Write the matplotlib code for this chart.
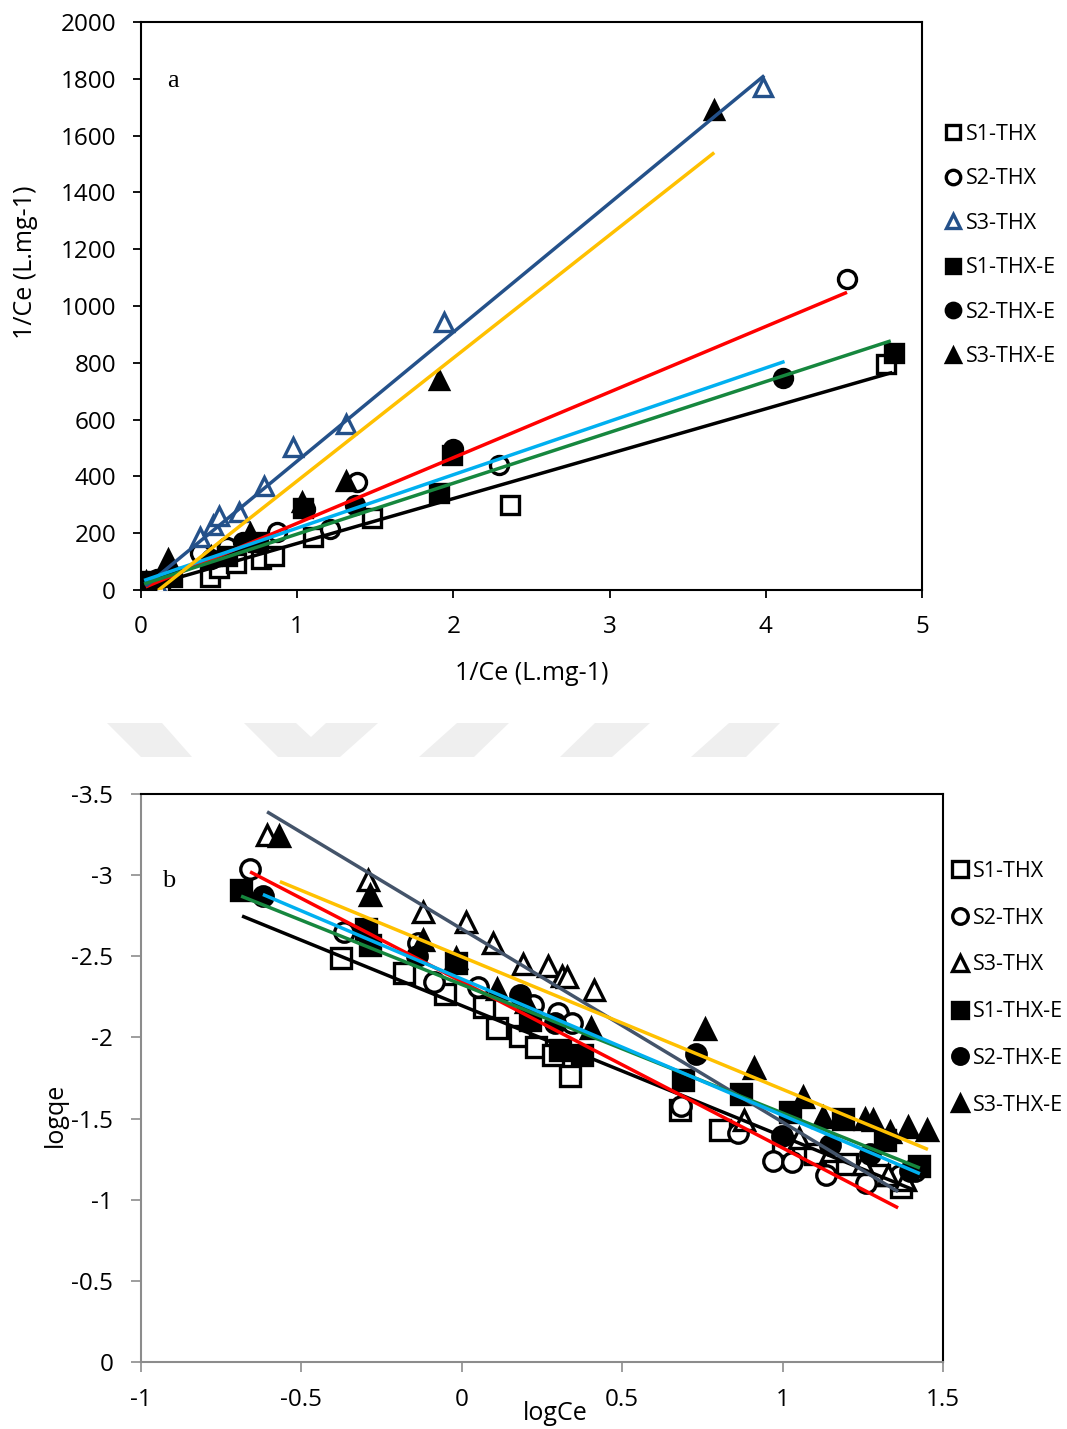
import numpy as np
import matplotlib
matplotlib.use("Agg")
import matplotlib.pyplot as plt
from matplotlib.patches import Polygon

plt.rcParams["font.family"] = ["Open Sans", "DejaVu Sans"]

series_names = ["S1-THX", "S2-THX", "S3-THX", "S1-THX-E", "S2-THX-E", "S3-THX-E"]

# panel a: 1/qe against 1/Ce
a_x = {
    "S1-THX": [0.03, 0.12, 0.44, 0.50, 0.61, 0.77, 0.85, 1.10, 1.48, 2.36, 4.77],
    "S2-THX": [0.04, 0.38, 0.55, 0.87, 1.21, 1.38, 2.29, 4.52],
    "S3-THX": [0.03, 0.10, 0.38, 0.46, 0.50, 0.63, 0.79, 0.97, 1.31, 1.94, 3.98],
    "S1-THX-E": [0.02, 0.20, 0.55, 0.75, 1.04, 1.91, 1.99, 4.82],
    "S2-THX-E": [0.10, 0.45, 0.65, 1.05, 1.37, 2.00, 4.11],
    "S3-THX-E": [0.03, 0.17, 0.45, 0.70, 1.03, 1.31, 1.91, 3.67],
}
a_y = {
    "S1-THX": [10, 25, 45, 78, 95, 110, 120, 185, 255, 300, 795],
    "S2-THX": [20, 130, 150, 205, 215, 380, 440, 1095],
    "S3-THX": [5, 20, 185, 230, 260, 275, 365, 505, 585, 945, 1770],
    "S1-THX-E": [30, 45, 120, 170, 290, 340, 475, 835],
    "S2-THX-E": [40, 110, 170, 285, 300, 495, 745],
    "S3-THX-E": [30, 108, 120, 200, 310, 385, 740, 1690],
}
a_slope = [158, 231, 454, 179, 188, 433]
a_intercept = [6, 4, 0, 18, 30, -49]
a_xstart = [0.02, 0.03, 0.03, 0.02, 0.02, 0.11]
a_xend = [4.81, 4.52, 3.99, 4.80, 4.12, 3.67]

# panel b: logqe against logCe
b_x = {
    "S1-THX": [-0.377, -0.180, -0.052, 0.069, 0.110, 0.181, 0.231, 0.284, 0.337,
               0.680, 0.805, 1.00, 1.10, 1.20, 1.30, 1.37],
    "S2-THX": [-0.660, -0.367, -0.137, -0.087, 0.050, 0.222, 0.300, 0.344, 0.683,
               0.861, 0.970, 1.029, 1.135, 1.260, 1.366, 1.413],
    "S3-THX": [-0.607, -0.292, -0.121, 0.013, 0.097, 0.191, 0.269, 0.312, 0.328,
               0.412, 0.880, 1.05, 1.15, 1.25, 1.33, 1.38],
    "S1-THX-E": [-0.688, -0.299, -0.286, -0.018, 0.213, 0.306, 0.375, 0.690, 0.870,
                 1.023, 1.188, 1.319, 1.425],
    "S2-THX-E": [-0.620, -0.14, 0.181, 0.291, 0.730, 0.998, 1.148, 1.273, 1.397],
    "S3-THX-E": [-0.570, -0.286, -0.121, -0.018, 0.110, 0.20, 0.403, 0.758, 0.911,
                 1.064, 1.126, 1.257, 1.282, 1.335, 1.391, 1.450],
}
b_y = {
    "S1-THX": [-2.49, -2.40, -2.27, -2.19, -2.06, -2.01, -1.94, -1.89, -1.76,
               -1.55, -1.43, -1.33, -1.28, -1.22, -1.15, -1.08],
    "S2-THX": [-3.04, -2.65, -2.58, -2.34, -2.31, -2.20, -2.15, -2.09, -1.58,
               -1.41, -1.24, -1.23, -1.15, -1.10, -1.15, -1.18],
    "S3-THX": [-3.25, -2.97, -2.77, -2.71, -2.58, -2.45, -2.44, -2.38, -2.37,
               -2.29, -1.49, -1.38, -1.30, -1.22, -1.15, -1.12],
    "S1-THX-E": [-2.91, -2.67, -2.57, -2.46, -2.11, -1.92, -1.89, -1.74, -1.65,
                 -1.54, -1.50, -1.37, -1.21],
    "S2-THX-E": [-2.87, -2.50, -2.26, -2.09, -1.90, -1.39, -1.34, -1.28, -1.18],
    "S3-THX-E": [-3.24, -2.88, -2.60, -2.49, -2.30, -2.22, -2.06, -2.05, -1.81,
                 -1.63, -1.51, -1.50, -1.49, -1.42, -1.45, -1.43],
}
b_slope = [0.806, 1.025, 1.19, 0.792, 0.84, 0.817]
b_intercept = [-2.196, -2.344, -2.668, -2.326, -2.36, -2.497]
b_xstart = [-0.685, -0.660, -0.607, -0.688, -0.620, -0.567]
b_xend = [1.41, 1.36, 1.36, 1.428, 1.428, 1.453]

a_yticks = list(range(0, 2001, 200))
a_xticks = [0, 1, 2, 3, 4, 5]
b_yticks = [0, -0.5, -1, -1.5, -2, -2.5, -3, -3.5]
b_xticks = [-1, -0.5, 0, 0.5, 1, 1.5]

markers = ["s", "o", "^", "s", "o", "^"]
filled = [False, False, False, True, True, True]
a_line_colors = ["black", "#FF0000", "#24518A", "#16873E", "#00B0F0", "#FFC000"]
b_line_colors = ["black", "#FF0000", "#44546A", "#16873E", "#00B0F0", "#FFC000"]

W, H = 1067, 1429
fig = plt.figure(figsize=(W / 100, H / 100), dpi=100)

TICK_FS = 17.5
LABEL_FS = 18
LEG_FS = 15.5


def px_axes(left, top, right, bottom):
    return fig.add_axes([left / W, 1 - bottom / H, (right - left) / W, (bottom - top) / H])


# faint watermark band between the panels
for pts in [
    [(107, 723), (162, 723), (192, 757), (141, 757)],
    [(244, 723), (296, 723), (311, 737), (326, 723), (378, 723), (340, 757), (278, 757)],
    [(457, 723), (509, 723), (474, 757), (419, 757)],
    [(595, 723), (650, 723), (612, 757), (560, 757)],
    [(729, 723), (780, 723), (746, 757), (691, 757)],
]:
    fig.patches.append(Polygon([(x / W, 1 - y / H) for x, y in pts], closed=True,
                               transform=fig.transFigure, facecolor="#EFEFEF",
                               edgecolor="none", zorder=0))


def draw_points(ax, xs, ys, ms, edge_s3):
    for i, name in enumerate(series_names):
        ec = edge_s3 if name == "S3-THX" else "black"
        ax.plot(xs[name], ys[name], linestyle="none", marker=markers[i],
                markersize=ms, markeredgewidth=2.4, markeredgecolor=ec,
                markerfacecolor="black" if filled[i] else "white",
                label=name, zorder=3)


def draw_fits(ax, slope, intercept, x0, x1, colors):
    for i in range(6):
        xx = np.array([x0[i], x1[i]])
        ax.plot(xx, slope[i] * xx + intercept[i], color=colors[i], lw=2.5,
                solid_capstyle="butt", zorder=4)


def label_style(ax, xlabel, ylabel, xpos, ypos):
    ax.set_xlabel(xlabel, fontsize=LABEL_FS)
    ax.set_ylabel(ylabel, fontsize=LABEL_FS)
    ax.xaxis.label.set_va("center")
    ax.yaxis.label.set_va("center")
    ax.xaxis.set_label_coords(*xpos)
    ax.yaxis.set_label_coords(*ypos)


# ---- panel a ----
ax1 = px_axes(141, 22, 922, 590)
draw_points(ax1, a_x, a_y, 13, "#24518A")
draw_fits(ax1, a_slope, a_intercept, a_xstart, a_xend, a_line_colors)
ax1.set_xlim(0, 5)
ax1.set_ylim(0, 2000)
ax1.set_xticks(a_xticks)
ax1.set_yticks(a_yticks)
for s in ax1.spines.values():
    s.set_linewidth(1.5)
    s.set_color("black")
ax1.tick_params(axis="both", direction="out", length=6, width=1.3, labelsize=TICK_FS)
ax1.tick_params(axis="y", pad=12)
ax1.tick_params(axis="x", pad=12)
label_style(ax1, "1/Ce (L.mg-1)", "1/Ce (L.mg-1)", (0.5006, -0.147), (-0.1485, 0.577))
ax1.text(0.041, 0.896, "a", transform=ax1.transAxes, fontsize=19,
         family=["Liberation Serif", "DejaVu Serif"], va="center", ha="center")
ax1.legend(loc="upper left", bbox_to_anchor=(945 / W, 1 - 124 / H),
           bbox_transform=fig.transFigure, frameon=False, fontsize=LEG_FS,
           handlelength=0.7, handletextpad=0.25, labelspacing=1.09,
           borderpad=0, borderaxespad=0, markerscale=0.8)

# ---- panel b ----
ax2 = px_axes(141, 794, 943, 1362)
draw_points(ax2, b_x, b_y, 14, "black")
draw_fits(ax2, b_slope, b_intercept, b_xstart, b_xend, b_line_colors)
ax2.set_xlim(-1, 1.5)
ax2.set_ylim(0, -3.5)
ax2.set_xticks(b_xticks)
ax2.set_yticks(b_yticks)
ax2.set_xticklabels(["-1", "-0.5", "0", "0.5", "1", "1.5"])
ax2.set_yticklabels(["0", "-0.5", "-1", "-1.5", "-2", "-2.5", "-3", "-3.5"])
for side, s in ax2.spines.items():
    s.set_linewidth(1.5)
    s.set_color("black" if side in ("top", "right") else "#8C8C8C")
ax2.tick_params(axis="both", direction="out", length=7, width=1.2, color="#8C8C8C",
                labelsize=TICK_FS)
ax2.tick_params(axis="y", pad=13)
ax2.tick_params(axis="x", pad=12)
label_style(ax2, "logCe", "logqe", (0.516, -0.0898), (-0.107, 0.435))
ax2.text(0.034, 0.847, "b", transform=ax2.transAxes, fontsize=19,
         family=["Liberation Serif", "DejaVu Serif"], va="center", ha="center")
ax2.legend(loc="upper left", bbox_to_anchor=(952 / W, 1 - 861 / H),
           bbox_transform=fig.transFigure, frameon=False, fontsize=LEG_FS,
           handlelength=0.7, handletextpad=0.25, labelspacing=1.195,
           borderpad=0, borderaxespad=0, markerscale=0.8)

fig.savefig("out.png", dpi=100)
